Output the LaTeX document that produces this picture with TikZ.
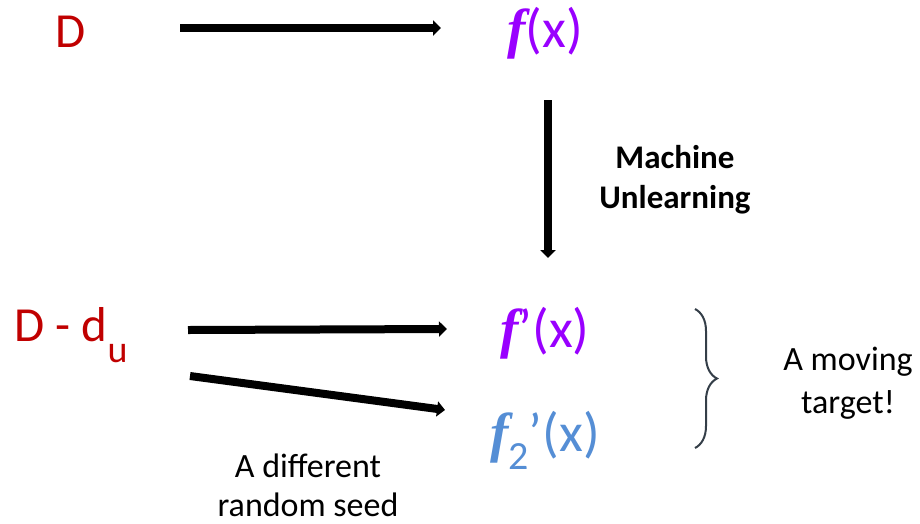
\documentclass[tikz,border=0pt]{standalone}
\usepackage{fontspec}
\setmainfont{Carlito}
\newfontfamily\funcfont{Liberation Serif}
\usepackage{tikz}
\usetikzlibrary{arrows.meta,decorations.pathreplacing}
\definecolor{dataRed}{RGB}{192,0,0}
\definecolor{modelPurple}{RGB}{153,0,255}
\definecolor{modelBlue}{RGB}{85,142,213}
\definecolor{braceGray}{RGB}{52,62,72}
\newcommand{\fsym}{{\funcfont\bfseries\itshape f}}

\begin{document}
\begin{tikzpicture}[x=1pt,y=-1pt,
  bigarrow/.style={line width=8pt,-{Triangle[length=8pt,width=15pt]}},
  datatext/.style={text=dataRed,font=\fontsize{49}{52}\selectfont},
  modeltext/.style={font=\fontsize{55}{58}\selectfont},
  plaintext/.style={align=center,font=\fontsize{34}{40}\selectfont}]
  \useasboundingbox (0,0) rectangle (920,523);

  % top row: training on D
  \node[datatext] (dset) at (71,32) {D};
  \node[modeltext,text=modelPurple] (fmodel) at (545,33) {\fsym(x)};
  \coordinate (topstart) at (180,28);
  \coordinate (topend) at (441,28);
  \draw[bigarrow] (topstart) -- (topend);

  % unlearning step
  \coordinate (downstart) at (548,100);
  \coordinate (downend) at (548,258);
  \draw[bigarrow] (downstart) -- (downend);
  \node[plaintext,font=\fontsize{33}{40}\selectfont\bfseries] (mlabel) at (675,180) {Machine\\Unlearning};

  % bottom row: retraining on D - d_u
  \node[datatext] (ddset) at (71,335) {D - d\raisebox{-0.42em}{\fontsize{38}{38}\selectfont u}};
  \node[modeltext,text=modelPurple] (unlearnt) at (545,333) {\fsym’(x)};
  \node[modeltext,text=modelBlue] (retrained) at (545,440) {\fsym\raisebox{-0.33em}{\fontsize{40}{40}\selectfont 2}’(x)};
  \coordinate (midstart) at (188,330);
  \coordinate (midend) at (447,329);
  \coordinate (lowstart) at (190,376);
  \coordinate (lowend) at (445,410);
  \draw[bigarrow] (midstart) -- (midend);
  \draw[bigarrow] (lowstart) -- (lowend);
  \node[plaintext,font=\fontsize{34}{39}\selectfont] (seedlabel) at (308,485) {A different\\random seed};

  % brace
  \draw[braceGray,line width=2pt,decorate,decoration={brace,amplitude=22pt}]
    (695,309) -- (695,448);
  \node[plaintext,font=\fontsize{34}{43}\selectfont] (targetlabel) at (848,383) {A moving\\target!};
\end{tikzpicture}
\end{document}
